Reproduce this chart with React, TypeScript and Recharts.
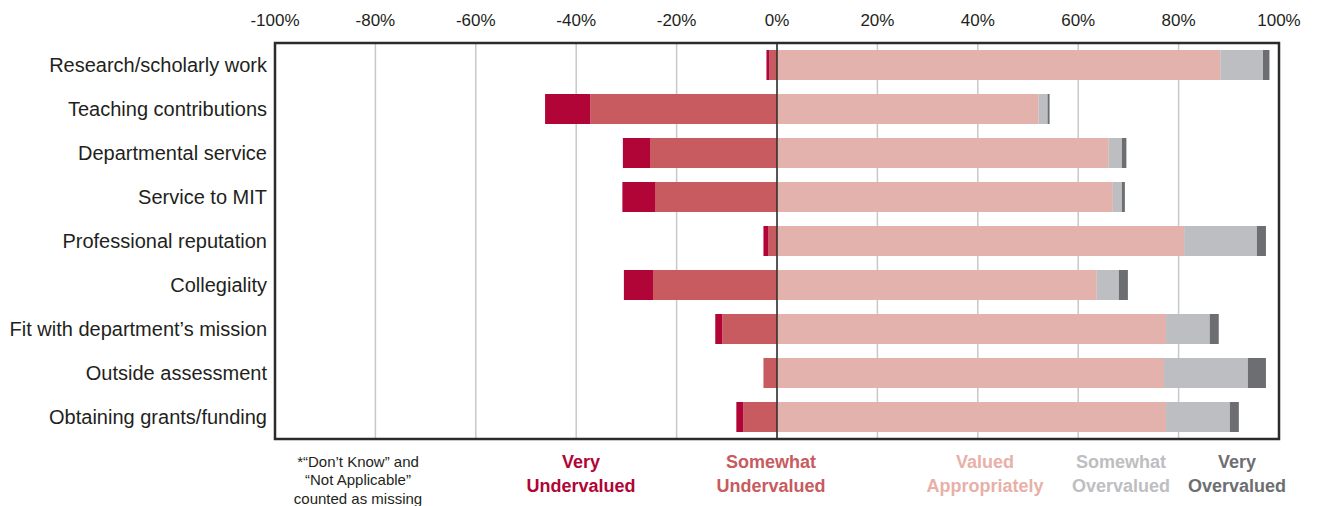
import React from "react";
import {
  BarChart,
  Bar,
  XAxis,
  YAxis,
  CartesianGrid,
  ReferenceLine,
  ReferenceArea,
} from "recharts";

const categories = [
  "Research/scholarly work",
  "Teaching contributions",
  "Departmental service",
  "Service to MIT",
  "Professional reputation",
  "Collegiality",
  "Fit with department\u2019s mission",
  "Outside assessment",
  "Obtaining grants/funding",
];

// percentages (undervalued ones are drawn to the left)
const veryUndervalued = [0.6, 9.0, 5.4, 6.5, 1.0, 5.8, 1.4, 0, 1.4];
const somewhatUndervalued = [1.5, 37.2, 25.3, 24.3, 1.7, 24.7, 10.9, 2.7, 6.7];
const valuedAppropriately = [88.3, 52.1, 66.1, 66.9, 81.1, 63.7, 77.5, 77.1, 77.5];
const somewhatOvervalued = [8.5, 1.8, 2.6, 1.8, 14.5, 4.4, 8.7, 16.7, 12.7];
const veryOvervalued = [1.3, 0.4, 0.9, 0.6, 1.8, 1.8, 1.8, 3.6, 1.8];

const xTicks = [-100, -80, -60, -40, -20, 0, 20, 40, 60, 80, 100];

const COLORS = {
  veryUnder: "#b10537",
  somewhatUnder: "#c75b60",
  valued: "#e3b2ac",
  somewhatOver: "#bdbec1",
  veryOver: "#6d6e71",
};

const data = categories.map((name, i) => ({
  name,
  somewhatUnder: -somewhatUndervalued[i],
  veryUnder: -veryUndervalued[i],
  valued: valuedAppropriately[i],
  somewhatOver: somewhatOvervalued[i],
  veryOver: veryOvervalued[i],
}));

const legendItems = [
  { lines: ["Very", "Undervalued"], color: COLORS.veryUnder, center: 573 },
  { lines: ["Somewhat", "Undervalued"], color: COLORS.somewhatUnder, center: 763 },
  { lines: ["Valued", "Appropriately"], color: "#e8b0a8", center: 977 },
  { lines: ["Somewhat", "Overvalued"], color: COLORS.somewhatOver, center: 1113 },
  { lines: ["Very", "Overvalued"], color: COLORS.veryOver, center: 1229 },
];

const FONT = '"Liberation Sans", Arial, Helvetica, sans-serif';

function TopTick(props: any) {
  const { x, payload } = props;
  return (
    <text x={x} y={18} textAnchor="middle" fontSize={17} fill="#231f20">
      {`${payload.value}%`}
    </text>
  );
}

function App() {
  return (
    <div style={{ position: "relative", width: 1304, height: 498, fontFamily: FONT }}>
      <BarChart
        width={1304}
        height={498}
        data={data}
        layout="vertical"
        stackOffset="sign"
        margin={{ top: 0, right: 33, bottom: 67, left: 0 }}
        barSize={30}
      >
        <CartesianGrid horizontal={false} stroke="#c8c8c8" strokeWidth={1.5} />
        <XAxis
          type="number"
          orientation="top"
          domain={[-100, 100]}
          ticks={xTicks}
          height={35}
          axisLine={false}
          tickLine={false}
          tick={<TopTick />}
        />
        <YAxis
          type="category"
          dataKey="name"
          width={267}
          axisLine={false}
          tickLine={false}
          tick={{ fontSize: 20, fill: "#231f20", fontFamily: FONT }}
        />
        <Bar dataKey="somewhatUnder" stackId="a" fill={COLORS.somewhatUnder} isAnimationActive={false} />
        <Bar dataKey="veryUnder" stackId="a" fill={COLORS.veryUnder} isAnimationActive={false} />
        <Bar dataKey="valued" stackId="a" fill={COLORS.valued} isAnimationActive={false} />
        <Bar dataKey="somewhatOver" stackId="a" fill={COLORS.somewhatOver} isAnimationActive={false} />
        <Bar dataKey="veryOver" stackId="a" fill={COLORS.veryOver} isAnimationActive={false} />
        <ReferenceLine x={0} stroke="#2b2b2b" strokeWidth={1.5} />
        <ReferenceArea x1={-100} x2={100} fill="none" stroke="#2b2b2b" strokeWidth={2.5} />
      </BarChart>

      <div
        style={{
          position: "absolute",
          top: 444.75,
          left: 350 - 100,
          width: 200,
          textAlign: "center",
          fontSize: 15,
          lineHeight: "18.5px",
          color: "#231f20",
        }}
      >
        <div>*&ldquo;Don&rsquo;t Know&rdquo; and</div>
        <div>&ldquo;Not Applicable&rdquo;</div>
        <div>counted as missing</div>
      </div>

      {legendItems.map((item) => (
        <div
          key={item.lines.join(" ")}
          style={{
            position: "absolute",
            top: 442,
            left: item.center - 80,
            width: 160,
            textAlign: "center",
            fontSize: 18,
            fontWeight: "bold",
            lineHeight: "24px",
            color: item.color,
          }}
        >
          {item.lines.map((l) => (
            <div key={l}>{l}</div>
          ))}
        </div>
      ))}
    </div>
  );
}

export default App;
